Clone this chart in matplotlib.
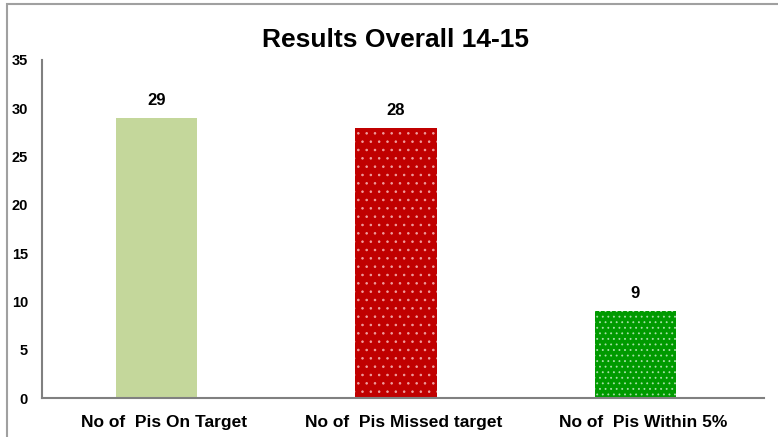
import matplotlib.pyplot as plt
import matplotlib.transforms as mtransforms
from matplotlib.patches import Rectangle

categories = ['No of  Pis On Target', 'No of  Pis Missed target', 'No of  Pis Within 5%']
values = [29, 28, 9]
colors = ['#c4d79b', '#c00000', '#009a00']
hatches = [None, '..', '...']
hatch_colors = ['#c4d79b', '#f0a0a0', '#a8e0a8']
yticks = [0, 5, 10, 15, 20, 25, 30, 35]

plt.rcParams['font.family'] = ['Liberation Sans', 'DejaVu Sans']
plt.rcParams['hatch.linewidth'] = 0.6

fig = plt.figure(figsize=(7.78, 4.37), dpi=100)
ax = fig.add_axes([0.054, 0.089, 0.928, 0.774])

x = range(len(categories))
bars = ax.bar(x, values, width=0.34, color=colors, linewidth=0)
for b, h, hc in zip(bars, hatches, hatch_colors):
    if h:
        b.set_hatch(h)
        b.set_edgecolor(hc)
        b.set_linewidth(0)

for xi, v in zip(x, values):
    ax.text(xi, v + 1.0, str(v), ha='center', va='bottom', fontsize=12, fontweight='bold')

ax.set_xlim(-0.478, 2.537)
ax.set_ylim(0, 35)
ax.set_yticks(yticks)
ax.set_xticks(list(x))
ax.set_xticklabels([])
# category labels sit a little right of the bar centres in the original
lab_tr = ax.get_xaxis_transform() + mtransforms.ScaledTranslation(8 / 100, -17 / 100, fig.dpi_scale_trans)
for xi, c in zip(x, categories):
    ax.text(xi, 0, c, transform=lab_tr, ha='center', va='top',
            fontsize=12.5, fontweight='bold')
for lab in ax.get_yticklabels():
    lab.set_fontweight('bold')
    lab.set_fontsize(10.5)
ax.tick_params(axis='y', length=0, pad=10)
ax.tick_params(axis='x', length=0)

for s in ['top', 'right']:
    ax.spines[s].set_visible(False)
ax.spines['left'].set_color('#808080')
ax.spines['bottom'].set_color('#808080')
ax.spines['left'].set_linewidth(1.5)
ax.spines['bottom'].set_linewidth(1.5)

fig.text(0.508, 0.908, 'Results Overall 14-15', ha='center', va='center',
         fontsize=19, fontweight='bold')

# chart frame (only top and left edges visible in the crop)
fig.patches.append(Rectangle((7 / 778, -0.2), 1.2, 1 - 4 / 437 + 0.2,
                             transform=fig.transFigure, fill=False,
                             edgecolor='#a0a0a0', linewidth=1.5, clip_on=False))

fig.savefig('out.png', dpi=100)
